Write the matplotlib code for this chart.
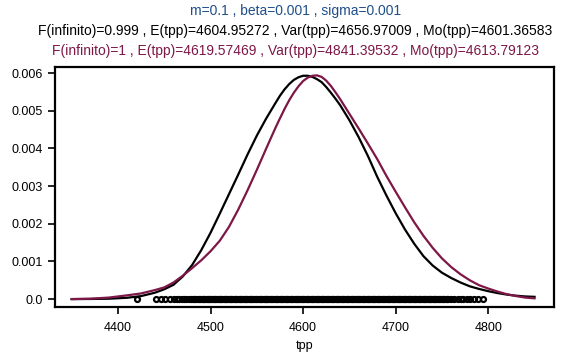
import matplotlib
matplotlib.use("Agg")
import matplotlib.pyplot as plt
from matplotlib.ticker import FixedLocator, FixedFormatter

plt.rcParams['font.family'] = ['Liberation Sans', 'DejaVu Sans']

# density curve 1 (black), values in units of 1e-3
x_black = [4350, 4370, 4390, 4410, 4425, 4440, 4450, 4460, 4470, 4480, 4490, 4500,
           4510, 4520, 4530, 4540, 4550, 4560, 4570, 4575, 4580, 4585, 4590, 4595,
           4600, 4605, 4610, 4615, 4620, 4625, 4630, 4635, 4640, 4650, 4660, 4670,
           4680, 4690, 4700, 4710, 4720, 4730, 4740, 4750, 4760, 4770, 4780, 4790,
           4800, 4810, 4820, 4830, 4840, 4850]
y_black = [0.000, 0.003, 0.010, 0.035, 0.080, 0.170, 0.260, 0.380, 0.600, 0.900, 1.300, 1.760,
           2.270, 2.790, 3.310, 3.840, 4.340, 4.790, 5.200, 5.400, 5.570, 5.710, 5.820, 5.890,
           5.930, 5.930, 5.900, 5.840, 5.760, 5.630, 5.480, 5.320, 5.150, 4.750, 4.300, 3.800,
           3.250, 2.750, 2.280, 1.850, 1.470, 1.140, 0.890, 0.700, 0.560, 0.440, 0.340, 0.270,
           0.210, 0.160, 0.120, 0.090, 0.070, 0.060]

# density curve 2 (maroon), values in units of 1e-3
x_red = [4350, 4370, 4390, 4410, 4425, 4440, 4450, 4460, 4470, 4480, 4490, 4500,
         4510, 4520, 4530, 4540, 4550, 4560, 4570, 4575, 4580, 4585, 4590, 4595,
         4600, 4605, 4610, 4615, 4620, 4625, 4630, 4635, 4640, 4650, 4660, 4670,
         4680, 4690, 4700, 4710, 4720, 4730, 4740, 4750, 4760, 4770, 4780, 4790,
         4800, 4810, 4820, 4830, 4840, 4850]
y_red = [0.000, 0.010, 0.040, 0.100, 0.150, 0.240, 0.310, 0.440, 0.620, 0.820, 1.030, 1.270,
         1.550, 1.920, 2.380, 2.890, 3.430, 3.990, 4.540, 4.800, 5.050, 5.280, 5.480, 5.650,
         5.790, 5.880, 5.930, 5.940, 5.900, 5.800, 5.660, 5.490, 5.310, 4.920, 4.530, 4.130,
         3.720, 3.270, 2.850, 2.440, 2.040, 1.680, 1.360, 1.080, 0.850, 0.660, 0.500, 0.370,
         0.280, 0.200, 0.130, 0.080, 0.040, 0.020]

# observed tpp values (rug at zero)
obs = [4420.4, 4441.6, 4446.0, 4450.5, 4456.0, 4460.2, 4463.5, 4466.1, 4468.9, 4471.8,
       4474.0, 4476.7, 4479.3, 4482.5, 4485.0, 4487.4, 4490.6, 4493.1, 4495.8, 4498.2,
       4501.0, 4503.7, 4506.3, 4509.1, 4511.8, 4514.2, 4517.0, 4519.6, 4522.3, 4525.1,
       4527.7, 4530.4, 4533.0, 4535.8, 4538.5, 4541.1, 4543.9, 4546.4, 4549.2, 4551.9,
       4554.5, 4557.3, 4559.8, 4562.6, 4565.2, 4568.0, 4570.7, 4573.3, 4576.1, 4578.6,
       4581.4, 4584.0, 4586.8, 4589.5, 4592.1, 4594.8, 4597.4, 4600.2, 4602.9, 4605.5,
       4608.3, 4610.8, 4613.6, 4616.2, 4619.0, 4621.7, 4624.3, 4627.1, 4629.6, 4632.4,
       4635.0, 4637.8, 4640.5, 4643.1, 4645.9, 4648.4, 4651.2, 4653.8, 4656.6, 4659.3,
       4661.9, 4664.7, 4667.2, 4670.0, 4672.6, 4675.4, 4678.1, 4680.7, 4683.5, 4686.0,
       4688.8, 4691.4, 4694.2, 4696.9, 4699.5, 4702.3, 4704.8, 4707.6, 4710.2, 4713.0,
       4715.7, 4718.3, 4721.1, 4723.6, 4726.4, 4729.0, 4731.8, 4734.5, 4737.1, 4739.9,
       4742.4, 4745.2, 4748.0, 4751.1, 4754.3, 4757.0, 4760.2, 4763.5, 4766.8, 4770.4,
       4773.1, 4776.9, 4780.5, 4784.7, 4789.0, 4794.6,
       4481.1, 4488.8, 4492.0, 4497.1, 4502.4, 4507.8, 4512.9, 4518.3, 4523.7, 4529.1,
       4534.4, 4539.8, 4545.2, 4550.5, 4555.9, 4561.2, 4566.6, 4572.0, 4577.3, 4582.7,
       4588.1, 4593.5, 4598.8, 4604.2, 4609.6, 4614.9, 4620.3, 4625.7, 4631.0, 4636.4,
       4641.8, 4647.2, 4652.5, 4657.9, 4663.3, 4668.6, 4674.0, 4679.4, 4684.8, 4690.1,
       4695.5, 4700.9, 4706.2, 4711.6, 4717.0, 4722.4, 4727.7, 4733.1, 4738.5, 4743.8,
       4749.6, 4755.5,
       4483.7, 4494.4, 4499.6, 4505.0, 4510.5, 4515.6, 4521.0, 4526.4, 4531.7, 4537.1,
       4542.5, 4547.8, 4553.2, 4558.6, 4563.9, 4569.3, 4574.7, 4580.0, 4585.4, 4590.8,
       4596.1, 4601.5, 4606.9, 4612.2, 4617.6, 4623.0, 4628.3, 4633.7, 4639.1, 4644.5,
       4649.8, 4655.2, 4660.6, 4665.9, 4671.3, 4676.7, 4682.1, 4687.4, 4692.8, 4698.2,
       4703.5, 4708.9, 4714.3, 4719.7, 4725.0, 4730.4, 4735.8, 4741.1, 4746.5, 4752.6]

title1 = "m=0.1 , beta=0.001 , sigma=0.001"
title2 = "F(infinito)=0.999 , E(tpp)=4604.95272 , Var(tpp)=4656.97009 , Mo(tpp)=4601.36583"
title3 = "F(infinito)=1 , E(tpp)=4619.57469 , Var(tpp)=4841.39532 , Mo(tpp)=4613.79123"

xticks = [4400, 4500, 4600, 4700, 4800]
yticks = [0.0, 0.001, 0.002, 0.003, 0.004, 0.005, 0.006]
ytick_labels = ["0.0", "0.001", "0.002", "0.003", "0.004", "0.005", "0.006"]

maroon = "#7d1747"
blue = "#1f4f8a"

fig = plt.figure(figsize=(5.85, 3.55), dpi=100)
ax = fig.add_axes([0.094, 0.135, 0.853, 0.676])

ax.plot(x_black, [v / 1000 for v in y_black], color="black", lw=1.6, zorder=3,
        solid_joinstyle="round")
ax.plot(x_red, [v / 1000 for v in y_red], color=maroon, lw=1.6, zorder=4,
        solid_joinstyle="round")
ax.plot(obs, [0.0] * len(obs), linestyle="none", marker="o", markersize=3.6,
        markerfacecolor="none", markeredgecolor="black", markeredgewidth=1.6, zorder=2)

ax.set_xlim(4332, 4871)
ax.set_ylim(-0.000212, 0.00616)
ax.xaxis.set_major_locator(FixedLocator(xticks))
ax.yaxis.set_major_locator(FixedLocator(yticks))
ax.yaxis.set_major_formatter(FixedFormatter(ytick_labels))
ax.tick_params(direction="out", length=5, width=1.2, labelsize=9, colors="black")
ax.tick_params(axis="x", pad=6)
for s in ax.spines.values():
    s.set_linewidth(1.6)
ax.set_xlabel("tpp", fontsize=9, labelpad=4)

fig.text(0.505, 0.968, title1, ha="center", va="center", color=blue, fontsize=10)
fig.text(0.505, 0.912, title2, ha="center", va="center", color="black", fontsize=10)
fig.text(0.505, 0.856, title3, ha="center", va="center", color=maroon, fontsize=10)

fig.savefig("out.png", dpi=100)
